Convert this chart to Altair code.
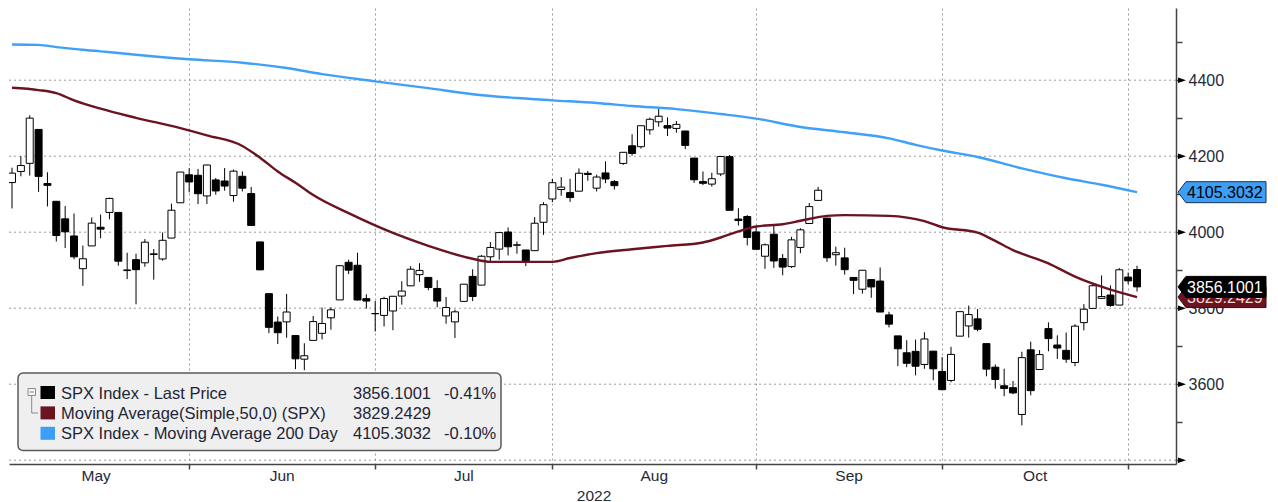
import altair as alt
import pandas as pd

FONT = "Liberation Sans"
W, H = 1167, 456
X_DOM = [-0.34, 131.4]
Y_DOM = [3390, 4590]

# ---- months (trading days per month, May..Oct 2022; last candle is Nov 1) ----
month_names = ["May", "Jun", "Jul", "Aug", "Sep", "Oct"]
month_days = [21, 21, 20, 23, 21, 21]
year_label = "2022"

# ---- daily candles (May 2 .. Nov 1, 2022) ----
opens = [4130.61, 4159.78, 4181.18, 4270.43, 4128.17, 4081.27, 4035.18, 3990.08, 3903.95, 3963.90,
         4013.02, 4052.00, 4051.98, 3899.00, 3927.76, 3919.42, 3942.94, 3929.59, 3984.60, 4077.43,
         4151.09, 4149.78, 4095.41, 4137.57, 4134.72, 4096.47, 4147.12, 4101.65, 3974.39, 3838.15,
         3763.52, 3764.05, 3728.18, 3665.90, 3715.31, 3733.89, 3774.71, 3821.75, 3920.76, 3913.00,
         3825.09, 3785.99, 3781.00, 3792.61, 3831.98, 3858.85, 3888.26, 3880.94, 3851.95, 3779.67,
         3763.99, 3818.00, 3883.79, 3860.73, 3935.32, 3955.47, 4000.48, 3965.72, 3953.22, 3951.43,
         4026.13, 4087.33, 4112.38, 4104.21, 4107.96, 4154.85, 4115.87, 4155.93, 4133.11, 4181.02,
         4227.40, 4225.02, 4269.37, 4290.46, 4280.40, 4273.13, 4266.31, 4195.08, 4133.09, 4126.55,
         4153.26, 4198.74, 4034.58, 4041.25, 4000.67, 3936.73, 3994.66, 3930.89, 3909.43, 3959.94,
         4022.94, 4083.67, 4037.12, 3940.73, 3932.41, 3880.95, 3849.91, 3875.23, 3871.40, 3782.36,
         3727.14, 3682.72, 3686.44, 3651.94, 3687.01, 3633.48, 3609.78, 3726.46, 3753.25, 3771.97,
         3706.74, 3644.79, 3595.86, 3590.83, 3520.37, 3690.41, 3638.65, 3746.26, 3703.11, 3689.05,
         3657.10, 3762.01, 3799.44, 3825.97, 3834.69, 3808.26, 3881.86, 3901.79]
highs = [4169.81, 4200.10, 4307.66, 4270.43, 4157.69, 4081.27, 4068.82, 4049.09, 3964.80, 4038.88,
         4046.46, 4090.72, 4051.98, 3945.96, 3943.42, 3981.88, 3955.68, 3999.33, 4075.14, 4158.49,
         4168.34, 4166.54, 4177.51, 4142.67, 4168.78, 4164.86, 4160.14, 4119.10, 3974.39, 3838.15,
         3778.18, 3837.56, 3728.18, 3707.71, 3779.65, 3801.79, 3802.58, 3913.65, 3927.72, 3945.86,
         3836.50, 3818.99, 3829.82, 3832.19, 3870.91, 3910.63, 3918.50, 3880.94, 3873.41, 3829.44,
         3796.41, 3863.62, 3902.44, 3939.81, 3974.13, 3999.29, 4012.44, 3975.30, 3953.22, 4039.56,
         4078.95, 4140.15, 4144.95, 4140.47, 4167.66, 4161.29, 4151.58, 4186.62, 4137.30, 4211.03,
         4257.91, 4280.47, 4301.79, 4325.28, 4302.18, 4292.53, 4266.31, 4195.08, 4159.77, 4156.56,
         4200.54, 4203.04, 4062.99, 4044.98, 4015.37, 3970.23, 4018.43, 3942.55, 3987.89, 4010.50,
         4076.81, 4119.28, 4037.12, 3961.94, 3959.14, 3880.95, 3900.45, 3876.01, 3907.07, 3790.68,
         3727.14, 3715.67, 3717.53, 3736.74, 3687.01, 3671.44, 3698.35, 3791.92, 3806.91, 3797.93,
         3706.74, 3652.17, 3640.66, 3608.34, 3685.41, 3712.00, 3689.73, 3762.79, 3728.58, 3736.00,
         3757.89, 3810.74, 3862.85, 3886.15, 3859.95, 3905.42, 3893.73, 3911.79]
lows = [4062.51, 4147.08, 4148.91, 4106.01, 4067.91, 3975.48, 3958.17, 3928.82, 3858.87, 3963.90,
        3983.99, 4033.93, 3911.91, 3876.58, 3810.32, 3909.04, 3875.13, 3925.03, 3984.60, 4077.43,
        4104.88, 4073.85, 4074.37, 4098.67, 4109.18, 4080.19, 4107.20, 4017.17, 3900.16, 3734.30,
        3705.68, 3722.30, 3639.77, 3636.87, 3715.31, 3717.69, 3743.52, 3821.75, 3889.66, 3820.14,
        3799.02, 3738.67, 3752.10, 3742.06, 3809.37, 3858.85, 3869.34, 3847.22, 3802.36, 3759.07,
        3721.56, 3817.18, 3818.63, 3860.73, 3922.03, 3927.64, 3938.85, 3943.46, 3910.74, 3951.43,
        3992.97, 4079.22, 4096.02, 4079.81, 4107.96, 4135.42, 4107.31, 4128.97, 4112.09, 4177.26,
        4201.41, 4219.78, 4256.90, 4277.77, 4253.08, 4261.98, 4218.70, 4129.86, 4124.03, 4119.97,
        4147.59, 4057.66, 4017.42, 3965.21, 3954.53, 3903.65, 3906.21, 3886.75, 3906.03, 3944.81,
        4022.94, 4083.67, 3921.73, 3912.12, 3888.28, 3837.08, 3838.50, 3827.54, 3789.49, 3749.45,
        3647.47, 3644.76, 3623.29, 3640.61, 3610.40, 3584.13, 3604.93, 3726.46, 3722.66, 3739.22,
        3620.73, 3588.10, 3568.45, 3573.86, 3491.58, 3570.66, 3638.65, 3686.53, 3666.51, 3656.44,
        3647.42, 3741.65, 3799.44, 3824.07, 3803.79, 3808.26, 3863.18, 3843.80]
closes = [4155.38, 4175.48, 4300.17, 4146.87, 4123.34, 3991.24, 4001.05, 3935.18, 3930.08, 4023.89,
          4008.01, 4088.85, 3923.68, 3900.79, 3901.36, 3973.75, 3941.48, 3978.73, 4057.84, 4158.24,
          4132.15, 4101.23, 4176.82, 4108.54, 4121.43, 4160.68, 4115.77, 4017.82, 3900.86, 3749.63,
          3735.48, 3789.99, 3666.77, 3674.84, 3764.79, 3759.89, 3795.73, 3911.74, 3900.11, 3821.55,
          3818.83, 3785.38, 3825.33, 3831.39, 3845.08, 3902.62, 3899.38, 3854.43, 3818.80, 3801.78,
          3790.38, 3863.16, 3830.85, 3936.69, 3959.90, 3998.95, 3961.63, 3966.84, 3921.05, 4023.61,
          4072.43, 4130.29, 4118.63, 4091.19, 4155.17, 4151.94, 4145.19, 4140.06, 4122.47, 4210.24,
          4207.27, 4280.15, 4297.14, 4305.20, 4274.04, 4283.74, 4228.48, 4137.99, 4128.73, 4140.77,
          4199.12, 4057.66, 4030.61, 3986.16, 3955.00, 3966.85, 3924.26, 3908.19, 3979.87, 4006.18,
          4067.36, 4110.41, 3932.69, 3946.01, 3901.35, 3873.33, 3899.89, 3855.93, 3789.93, 3757.99,
          3693.23, 3655.04, 3647.29, 3719.04, 3640.47, 3585.62, 3678.43, 3790.93, 3783.28, 3744.52,
          3639.66, 3612.39, 3588.84, 3577.03, 3669.91, 3583.07, 3677.95, 3719.98, 3695.16, 3665.78,
          3752.75, 3797.34, 3859.11, 3830.60, 3807.30, 3901.06, 3871.98, 3856.10]

# ---- moving averages (candle index, value) ----
ma50_idx = [0, 3, 5, 7, 10, 14, 19, 22, 26, 28, 30, 32, 34, 38, 43, 47, 52, 54, 61, 63, 66, 70,
            74, 78, 80, 82, 84, 87, 89, 92, 94, 99, 103, 105, 109, 111, 113, 117, 120, 124, 127]
ma50_val = [4380, 4374, 4366, 4347, 4325, 4301, 4274, 4255, 4227, 4196, 4160, 4130, 4098, 4050,
            3998, 3964, 3930, 3922, 3922, 3932, 3945, 3955, 3964, 3973, 3986, 4002, 4015, 4021,
            4030, 4043, 4045, 4043, 4029, 4013, 3999, 3977, 3953, 3918, 3883, 3849, 3829.2429]
ma200_idx = [0, 3, 5, 10, 14, 20, 26, 31, 35, 41, 47, 52, 57, 61, 66, 70, 75, 80, 84, 89, 94,
             99, 102, 105, 109, 114, 119, 123, 127]
ma200_val = [4494, 4493, 4487, 4476, 4467, 4455, 4446, 4432, 4416, 4397, 4379, 4363, 4353, 4347,
             4340, 4332, 4324, 4311, 4299, 4277, 4263, 4247, 4230, 4215, 4198, 4168, 4142, 4125,
             4105.3032]

# ---- legend / tags ----
legend_names = ["SPX Index - Last Price", "Moving Average(Simple,50,0) (SPX)",
                "SPX Index - Moving Average 200 Day"]
legend_values = ["3856.1001", "3829.2429", "4105.3032"]
legend_pcts = ["-0.41%", "", "-0.10%"]
legend_colors = ["#000000", "#6b1420", "#3d9ef5"]
tag_values = [4105.3032, 3829.2429, 3856.1001]
tag_labels = ["4105.3032", "3829.2429", "3856.1001"]
tag_fills = ["#3d9ef5", "#6b1420", "#000000"]
tag_text_colors = ["#000000", "#f4d8d8", "#ffffff"]
tag_strokes = ["#1b3550", "#3a0a10", "#000000"]

grid_values = [3400, 3600, 3800, 4000, 4200, 4400]
tick_values = list(range(3400, 4600, 100))

# ---- derived ----
ends = []
c = -1
for d in month_days:
    c += d
    ends.append(c)
starts = [-1] + ends[:-1]
centers = [(s + e) / 2 for s, e in zip(starts, ends)]

df = pd.DataFrame({"i": list(range(len(opens))), "open": opens, "high": highs,
                   "low": lows, "close": closes})
ma50 = pd.DataFrame({"i": ma50_idx, "v": ma50_val})
ma200 = pd.DataFrame({"i": ma200_idx, "v": ma200_val})
months_df = pd.DataFrame({"i": centers, "m": month_names})
grid_df = pd.DataFrame({"g": grid_values})

XS = alt.Scale(domain=X_DOM, nice=False, zero=False, padding=0)
YS = alt.Scale(domain=Y_DOM, nice=False, zero=False, padding=0)
XA = alt.Axis(values=ends, labels=False, tickSize=5, tickColor="#444", tickWidth=1.5,
              domainColor="#444", domainWidth=1.5, grid=True, gridDash=[2, 3],
              gridColor="#9a9a9a", gridWidth=1, title=None)
YA = alt.Axis(orient="right", values=tick_values, format="d",
              labelExpr="datum.value % 200 == 0 && datum.value > 3400 ? datum.label : ''",
              tickSize=6, tickColor="#444", tickWidth=1.5, domainColor="#444", domainWidth=1.5,
              grid=False, labelFont=FONT, labelFontSize=16, labelColor="#232a3a",
              labelPadding=6, title=None)


def X(f):
    return alt.X(f, scale=XS, axis=XA)


def Y(f):
    return alt.Y(f, scale=YS, axis=YA)


one = pd.DataFrame({"k": [0]})


def txt(s, x, y, size=16, color="#222", align="left", baseline="middle"):
    return alt.Chart(one).mark_text(text=s, align=align, baseline=baseline, fontSize=size,
                                    font=FONT, color=color).encode(x=alt.value(x), y=alt.value(y))


layers = []

# horizontal dashed gridlines
layers.append(alt.Chart(grid_df).mark_rule(strokeDash=[2, 3], color="#9a9a9a", strokeWidth=1)
              .encode(y=Y("g:Q")))

# wicks and bodies
base = alt.Chart(df)
layers.append(base.mark_rule(color="black", strokeWidth=1, clip=True)
              .encode(x=X("i:Q"), y=Y("low:Q"), y2="high:Q"))
layers.append(base.mark_bar(size=7, stroke="black", strokeWidth=1, clip=True)
              .encode(x=X("i:Q"), y=Y("open:Q"), y2="close:Q",
                      fill=alt.condition("datum.close >= datum.open",
                                         alt.value("white"), alt.value("black"))))

# moving averages
layers.append(alt.Chart(ma50).mark_line(color="#6b1420", strokeWidth=2.4, clip=True,
                                        interpolate="monotone")
              .encode(x=X("i:Q"), y=Y("v:Q")))
layers.append(alt.Chart(ma200).mark_line(color="#3fa0f8", strokeWidth=2.4, clip=True,
                                         interpolate="monotone")
              .encode(x=X("i:Q"), y=Y("v:Q")))

# right-axis triangle markers
layers.append(alt.Chart(grid_df).mark_point(shape="M -1 -0.7 L 1 0 L -1 0.7 Z", size=64,
                                            filled=True, color="black", opacity=1)
              .encode(x=alt.value(W + 6), y=Y("g:Q")))

# value tags on the right
TAG = "M -1 0 L -0.82 -0.2386 L 1 -0.2386 L 1 0.2386 L -0.82 0.2386 Z"
for v, lab, f, tc, sc in zip(tag_values, tag_labels, tag_fills, tag_text_colors, tag_strokes):
    tdf = pd.DataFrame({"v": [v], "t": [lab]})
    layers.append(alt.Chart(tdf).mark_point(shape=TAG, size=7744, filled=True, fill=f,
                                            stroke=sc, strokeWidth=1, opacity=1)
                  .encode(x=alt.value(W + 46), y=Y("v:Q")))
    layers.append(alt.Chart(tdf).mark_text(align="left", baseline="middle", fontSize=16,
                                           font=FONT, color=tc, dy=1)
                  .encode(x=alt.value(W + 11), y=Y("v:Q"), text="t:N"))

# month labels and year
layers.append(alt.Chart(months_df).mark_text(align="center", baseline="alphabetic",
                                             fontSize=15.5, font=FONT, color="#232a3a")
              .encode(x=X("i:Q"), y=alt.value(H + 17), text="m:N"))
layers.append(txt(year_label, 585, H + 37, size=15.5, color="#232a3a", align="center",
                  baseline="alphabetic"))

# legend box
layers.append(alt.Chart(one).mark_rect(cornerRadius=5, fill="#efefef", stroke="#5a5a5a",
                                       strokeWidth=1.5)
              .encode(x=alt.value(9), x2=alt.value(492), y=alt.value(365), y2=alt.value(442.5)))
# tree icon
layers.append(alt.Chart(one).mark_rect(fill="#f6f6f6", stroke="#8a8a8a", strokeWidth=1)
              .encode(x=alt.value(19), x2=alt.value(26.5), y=alt.value(380.5), y2=alt.value(387.5)))
layers.append(alt.Chart(one).mark_rule(color="#8a8a8a", strokeWidth=1)
              .encode(x=alt.value(20.5), x2=alt.value(25), y=alt.value(384)))
layers.append(alt.Chart(one).mark_rule(color="#8a8a8a", strokeWidth=1)
              .encode(x=alt.value(22.7), y=alt.value(387.5), y2=alt.value(405)))
layers.append(alt.Chart(one).mark_rule(color="#8a8a8a", strokeWidth=1)
              .encode(x=alt.value(22.7), x2=alt.value(29), y=alt.value(405)))

for k, (nm, val, pc, col) in enumerate(zip(legend_names, legend_values, legend_pcts, legend_colors)):
    cy = 384.5 + k * 20.4
    layers.append(alt.Chart(one).mark_rect(fill=col)
                  .encode(x=alt.value(31.5), x2=alt.value(46), y=alt.value(cy - 6.5),
                          y2=alt.value(cy + 6.5)))
    layers.append(txt(nm, 52, cy + 1, size=16.5, color="#1f2535"))
    layers.append(txt(val, 344, cy + 1, size=16.5, color="#1f2535"))
    if pc:
        layers.append(txt(pc, 435, cy + 1, size=16.5, color="#1f2535"))

chart = (alt.layer(*layers)
         .properties(width=W, height=H, padding=0, background="white")
         .configure_view(strokeWidth=0))

chart.save("out.html", embed_options={"renderer": "svg", "actions": False})
